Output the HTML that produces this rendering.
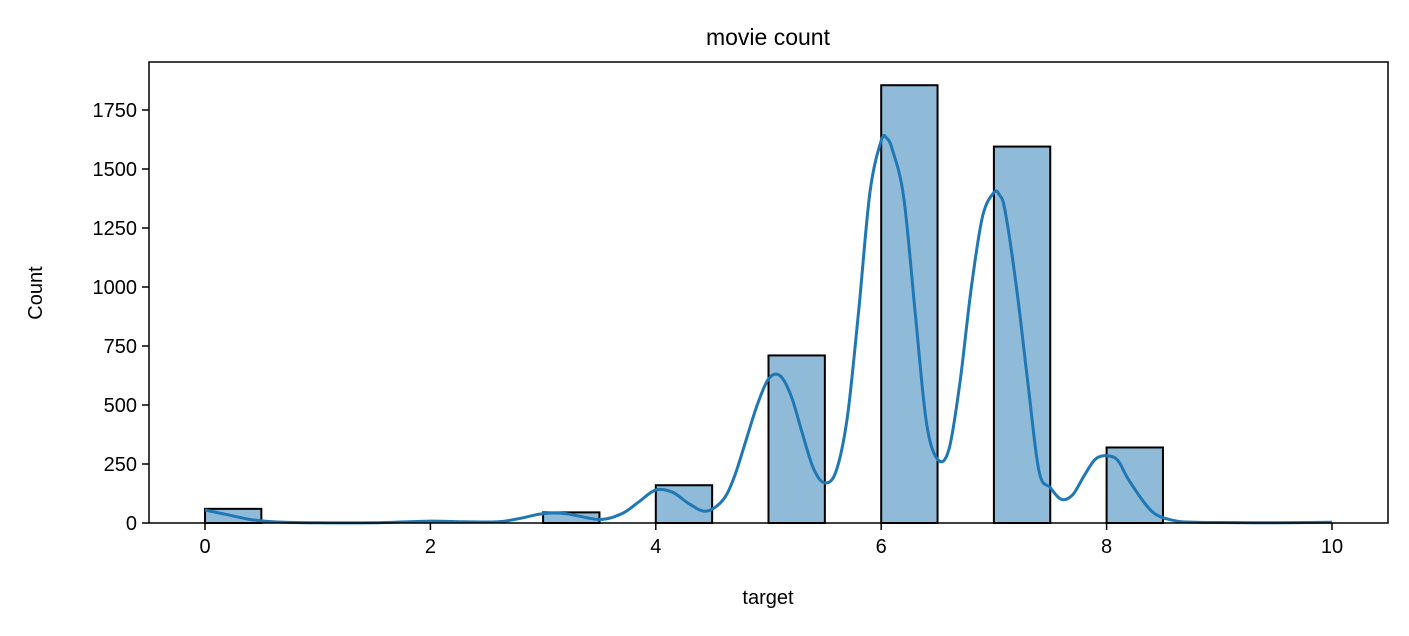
<!DOCTYPE html>
<html><head><meta charset="utf-8"><style>
body{margin:0;background:#fff;}
svg text{font-family:"Liberation Sans","DejaVu Sans",sans-serif;fill:#000;}
</style></head><body>
<svg id="chart" width="1409" height="631" xmlns="http://www.w3.org/2000/svg">
<text x="768" y="45" font-size="23" text-anchor="middle">movie count</text>
<text x="768" y="604" font-size="20" text-anchor="middle">target</text>
<text transform="translate(42,293) rotate(-90)" font-size="20" text-anchor="middle">Count</text>
<g id="bars"></g><g id="kde"></g><g id="ticks"></g>
<rect x="149" y="62" width="1239" height="461" fill="none" stroke="#000" stroke-width="1.5"/>
</svg>
<script>
const binStarts=[0,3,4,5,6,7,8];
const binCounts=[60,45,160,710,1855,1595,320];
const binWidth=0.5;
const kdeX=[0,0.2,0.4,0.6,0.8,1.0,1.5,2.0,2.3,2.6,2.8,3.0,3.2,3.5,3.7,3.85,4.0,4.15,4.3,4.45,4.6,4.7,4.8,4.9,5.0,5.1,5.2,5.3,5.4,5.5,5.6,5.7,5.8,5.9,6.0,6.05,6.1,6.2,6.3,6.4,6.5,6.6,6.7,6.8,6.9,7.0,7.05,7.1,7.2,7.3,7.4,7.5,7.6,7.7,7.8,7.9,8.0,8.1,8.2,8.4,8.6,8.8,9.0,9.5,10];
const kdeY=[55,35,15,5,2,1,1,8,5,5,20,40,40,15,40,90,140,130,80,50,100,200,350,500,610,625,540,380,230,170,220,450,900,1400,1620,1630,1580,1380,900,430,270,310,600,1000,1300,1400,1390,1320,1000,600,220,150,100,120,200,270,285,265,180,50,10,3,2,1,3];
const xTicks=[0,2,4,6,8,10];
const yTicks=[0,250,500,750,1000,1250,1500,1750];
const NS="http://www.w3.org/2000/svg";
const sx=v=>205+v*112.7, sy=v=>523-v*0.236;
function mk(t,a,p){const e=document.createElementNS(NS,t);for(const k in a)e.setAttribute(k,a[k]);document.getElementById(p).appendChild(e);return e;}
binStarts.forEach((b,i)=>{
 const r=mk('rect',{x:sx(b),y:sy(binCounts[i]),width:sx(b+binWidth)-sx(b),height:sy(0)-sy(binCounts[i]),fill:'rgba(31,119,180,0.5)',stroke:'#000','stroke-width':2},'bars');
 
 
});
const pts=kdeX.map((x,i)=>[sx(x),sy(kdeY[i])]);
let d='M'+pts[0][0]+','+pts[0][1];
for(let i=0;i<pts.length-1;i++){
 const p0=pts[Math.max(0,i-1)],p1=pts[i],p2=pts[i+1],p3=pts[Math.min(pts.length-1,i+2)];
 const c1=[p1[0]+(p2[0]-p0[0])/6,p1[1]+(p2[1]-p0[1])/6];
 const c2=[p2[0]-(p3[0]-p1[0])/6,p2[1]-(p3[1]-p1[1])/6];
 d+='C'+c1[0].toFixed(1)+','+Math.min(523,c1[1]).toFixed(1)+' '+c2[0].toFixed(1)+','+Math.min(523,c2[1]).toFixed(1)+' '+p2[0].toFixed(1)+','+p2[1].toFixed(1);
}
const p=mk('path',{d:d,fill:'none',stroke:'#1f77b4','stroke-width':3,'stroke-linejoin':'round'},'kde');


xTicks.forEach(t=>{
 mk('line',{x1:sx(t),x2:sx(t),y1:523,y2:530,stroke:'#000','stroke-width':1.5},'ticks');
 const tx=mk('text',{x:sx(t),y:553,'font-size':20,'text-anchor':'middle'},'ticks');tx.textContent=t;
 
 
});
yTicks.forEach(t=>{
 mk('line',{x1:142,x2:149,y1:sy(t),y2:sy(t),stroke:'#000','stroke-width':1.5},'ticks');
 const tx=mk('text',{x:137,y:sy(t)+7,'font-size':20,'text-anchor':'end'},'ticks');tx.textContent=t;
 
 
});
</script>
</body></html>
